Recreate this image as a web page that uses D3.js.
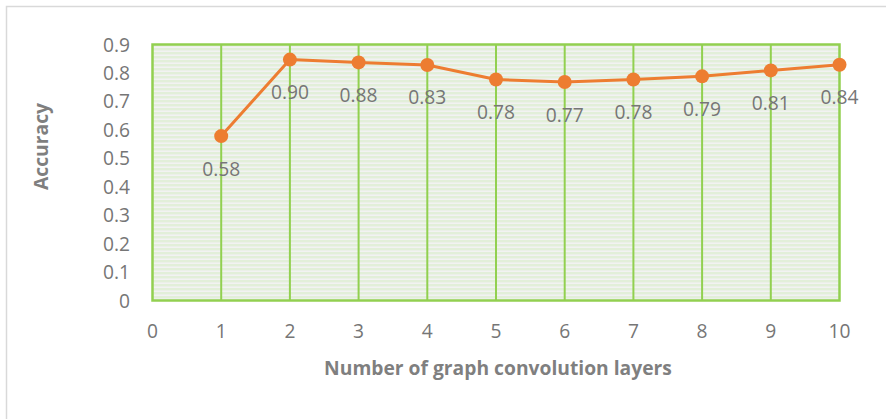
<!DOCTYPE html>
<html>
<head>
<meta charset="utf-8">
<script src="https://cdn.jsdelivr.net/npm/d3@7"></script>
<style>
  html, body { margin: 0; padding: 0; background: #ffffff; }
  svg { display: block; }
</style>
</head>
<body>
<svg id="chart" width="886" height="419"></svg>
<script>
// ---- data ----
const layers = [1, 2, 3, 4, 5, 6, 7, 8, 9, 10];
const accuracy = [0.578, 0.847, 0.837, 0.828, 0.777, 0.768, 0.777, 0.788, 0.809, 0.829];
const pointLabels = ["0.58", "0.90", "0.88", "0.83", "0.78", "0.77", "0.78", "0.79", "0.81", "0.84"];
const xTicks = [0, 1, 2, 3, 4, 5, 6, 7, 8, 9, 10];
const yTicks = [0, 0.1, 0.2, 0.3, 0.4, 0.5, 0.6, 0.7, 0.8, 0.9];
const xTitle = "Number of graph convolution layers";
const yTitle = "Accuracy";

// ---- layout ----
const svg = d3.select("#chart");
const pL = 152.5, pR = 839.5, pT = 44.5, pB = 300.5;
const x = d3.scaleLinear().domain([0, 10]).range([pL, pR]);
const y = d3.scaleLinear().domain([0, 0.9]).range([pB, pT]);

// outer chart border (only top/left visible in crop)
svg.append("rect").attr("x", 6.5).attr("y", 6.5).attr("width", 900).attr("height", 500)
  .attr("fill", "none").attr("stroke", "#d9d9d9").attr("stroke-width", 1.5);

// striped pattern
const defs = svg.append("defs");
const pat = defs.append("pattern").attr("id", "stripes").attr("patternUnits", "userSpaceOnUse")
  .attr("width", 8).attr("height", 4);
pat.append("rect").attr("width", 8).attr("height", 4).attr("fill", "#f2f2f2");
pat.append("rect").attr("width", 8).attr("height", 2.4).attr("fill", "#e2efd9");

svg.append("rect").attr("x", pL).attr("y", pT).attr("width", pR - pL).attr("height", pB - pT)
  .attr("fill", "url(#stripes)");

// vertical gridlines
svg.append("g").selectAll("line").data(xTicks.slice(1, -1)).join("line")
  .attr("x1", d => x(d)).attr("x2", d => x(d)).attr("y1", pT).attr("y2", pB)
  .attr("stroke", "#92d050").attr("stroke-width", 2);

// plot border
svg.append("rect").attr("x", pL).attr("y", pT).attr("width", pR - pL).attr("height", pB - pT)
  .attr("fill", "none").attr("stroke", "#92d050").attr("stroke-width", 2.5);

const tickFont = "'Open Sans', sans-serif";
const textColor = "#767676";

// measure helper: font size such that sample text has target width
function fitSize(text, family, weight, target) {
  const t = svg.append("text").attr("font-family", family).attr("font-weight", weight)
    .attr("font-size", 100).text(text);
  const w = t.node().getComputedTextLength();
  t.remove();
  return 100 * target / w;
}
const numSize = fitSize("0.84", tickFont, "normal", 38);
const titleSize = fitSize(xTitle, "'Open Sans', sans-serif", "bold", 348);

// y tick labels
svg.append("g").selectAll("text").data(yTicks).join("text")
  .attr("x", 130).attr("y", d => y(d) + 7)
  .attr("text-anchor", "end")
  .attr("font-family", tickFont).attr("font-size", numSize).attr("fill", textColor)
  .text(d => d === 0 ? "0" : d3.format(".1f")(d));

// x tick labels
svg.append("g").selectAll("text").data(xTicks).join("text")
  .attr("x", d => x(d)).attr("y", 338)
  .attr("text-anchor", "middle")
  .attr("font-family", tickFont).attr("font-size", numSize).attr("fill", textColor)
  .text(d => d);

// line
const line = d3.line().x((d, i) => x(layers[i])).y(d => y(d));
svg.append("path").datum(accuracy).attr("d", line)
  .attr("fill", "none").attr("stroke", "#ed7d31").attr("stroke-width", 3).attr("stroke-linejoin", "round");

// markers
svg.append("g").selectAll("circle").data(accuracy).join("circle")
  .attr("cx", (d, i) => x(layers[i])).attr("cy", d => y(d)).attr("r", 7)
  .attr("fill", "#ed7d31");

// data labels
svg.append("g").selectAll("text").data(accuracy).join("text")
  .attr("x", (d, i) => x(layers[i])).attr("y", d => y(d) + 39.5)
  .attr("text-anchor", "middle")
  .attr("font-family", tickFont).attr("font-size", numSize).attr("fill", textColor)
  .text((d, i) => pointLabels[i]);

// axis titles
svg.append("text").attr("x", (pL + pR) / 2 + 2).attr("y", 375)
  .attr("text-anchor", "middle")
  .attr("font-family", "'Open Sans', sans-serif").attr("font-weight", "bold").attr("font-size", titleSize)
  .attr("fill", "#7f7f7f").text(xTitle);

svg.append("text").attr("transform", "translate(48,146.5) rotate(-90)")
  .attr("text-anchor", "middle")
  .attr("font-family", "'Open Sans', sans-serif").attr("font-weight", "bold").attr("font-size", titleSize)
  .attr("fill", "#7f7f7f").text(yTitle);
</script>
</body>
</html>
